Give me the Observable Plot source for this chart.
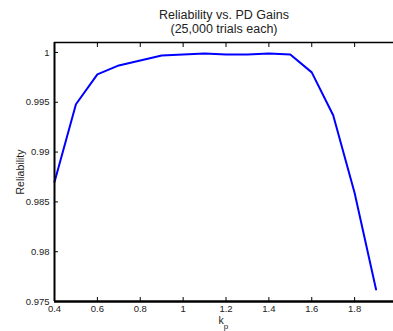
<!DOCTYPE html>
<html>
<head>
<meta charset="utf-8">
<script src="https://cdn.jsdelivr.net/npm/d3@7"></script>
<script src="https://cdn.jsdelivr.net/npm/@observablehq/plot@0.6"></script>
<style>
  html, body { margin: 0; padding: 0; background: white; }
</style>
</head>
<body>
<div id="chart"></div>
<script>
const kp = [0.4, 0.5, 0.6, 0.7, 0.8, 0.9, 1.0, 1.1, 1.2, 1.3, 1.4, 1.5, 1.6, 1.7, 1.8, 1.9];
const reliability = [0.9870, 0.9948, 0.9978, 0.9987, 0.9992, 0.9997, 0.9998, 0.9999, 0.9998, 0.9998, 0.9999, 0.9998, 0.9980, 0.9937, 0.9859, 0.9762];
const xTicks = [0.4, 0.6, 0.8, 1.0, 1.2, 1.4, 1.6, 1.8];
const yTicks = [0.975, 0.98, 0.985, 0.99, 0.995, 1.0];
const titleLines = ["Reliability vs. PD Gains", "(25,000 trials each)"];
const yLabel = "Reliability";
const xLabelMain = "k";
const xLabelSub = "p";

const data = kp.map((k, i) => ({k, r: reliability[i]}));
const fmt = d => String(+d.toFixed(4));
const font = "Liberation Sans, Arial, Helvetica, sans-serif";

const chart = Plot.plot({
  width: 393,
  height: 331,
  marginLeft: 54,
  marginTop: 42,
  marginBottom: 30,
  marginRight: 0,
  x: {domain: [0.4, 2.0], range: [54, 397]},
  y: {domain: [0.975, 1.001]},
  style: {fontFamily: font, fontSize: "9.5px", color: "#222", overflow: "hidden", background: "white"},
  marks: [
    Plot.line(data, {x: "k", y: "r", stroke: "#0000ff", strokeWidth: 2}),
    Plot.axisX(xTicks, {anchor: "bottom", tickSize: -4, tickPadding: 8, tickFormat: fmt, label: null, stroke: "#000"}),
    Plot.axisX(xTicks, {anchor: "top", tickSize: -4, tickFormat: () => "", label: null, stroke: "#000"}),
    Plot.axisY(yTicks, {anchor: "left", tickSize: -4, tickPadding: 9, tickFormat: fmt, label: null, stroke: "#000"}),
    Plot.ruleY([0.975], {stroke: "#000", strokeWidth: 2.5}),
    Plot.ruleY([1.001], {stroke: "#000", strokeWidth: 1.5}),
    Plot.ruleX([0.4], {stroke: "#000", strokeWidth: 2}),
    Plot.text([titleLines[0]], {frameAnchor: "top", dy: -28, text: d => d, fontSize: 12.5, fill: "#222", lineAnchor: "middle"}),
    Plot.text([titleLines[1]], {frameAnchor: "top", dy: -14, text: d => d, fontSize: 12.5, fill: "#222", lineAnchor: "middle"}),
    Plot.text([yLabel], {frameAnchor: "left", dx: -34, dy: 0, rotate: -90, textAnchor: "middle", text: d => d, fontSize: 10.5, fill: "#222", lineAnchor: "middle"}),
    Plot.text([xLabelMain], {frameAnchor: "bottom", dx: -3, dy: 19, text: d => d, fontSize: 10.5, fill: "#222", lineAnchor: "middle"}),
    Plot.text([xLabelSub], {frameAnchor: "bottom", dx: 2, dy: 25, text: d => d, fontSize: 8, fill: "#222", lineAnchor: "middle"})
  ]
});
document.getElementById("chart").appendChild(chart);
</script>
</body>
</html>
